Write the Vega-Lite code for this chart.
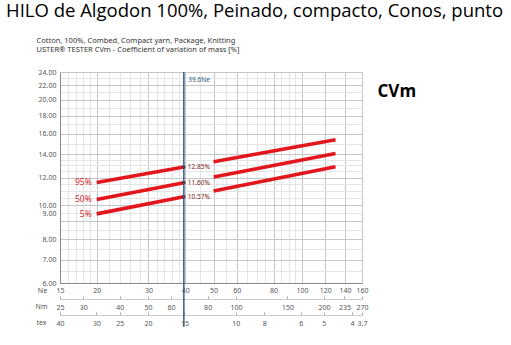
{
  "$schema": "https://vega.github.io/schema/vega-lite/v6.json",
  "autosize": {"type": "none"},
  "width": 302,
  "height": 211,
  "padding": {"left": 60, "top": 72, "right": 149, "bottom": 62},
  "background": "white",
  "config": {"view": {"stroke": "#c4c4c4"}},
  "title": {
    "text": "HILO de Algodon 100%, Peinado, compacto, Conos, punto",
    "anchor": "start", "frame": "group", "dx": -54, "dy": 3.5,
    "font": "Open Sans", "fontSize": 18.5, "fontWeight": "normal", "color": "#000000",
    "baseline": "alphabetic"
  },
  "datasets": {
    "lines": [
      {"Ne": 20, "CV": 11.62, "seg": "95a"}, {"Ne": 39.6, "CV": 12.85, "seg": "95a"},
      {"Ne": 50, "CV": 13.31, "seg": "95b"}, {"Ne": 130, "CV": 15.37, "seg": "95b"},
      {"Ne": 20, "CV": 10.39, "seg": "50a"}, {"Ne": 39.6, "CV": 11.6, "seg": "50a"},
      {"Ne": 50, "CV": 12.04, "seg": "50b"}, {"Ne": 130, "CV": 14.04, "seg": "50b"},
      {"Ne": 20, "CV": 9.45, "seg": "5a"}, {"Ne": 39.6, "CV": 10.57, "seg": "5a"},
      {"Ne": 50, "CV": 10.98, "seg": "5b"}, {"Ne": 130, "CV": 12.87, "seg": "5b"}
    ],
    "markers": [
      {"Ne": 39.6, "CV": 12.85, "label": "12.85%"},
      {"Ne": 39.6, "CV": 11.6, "label": "11.60%"},
      {"Ne": 39.6, "CV": 10.57, "label": "10.57%"}
    ],
    "left": [
      {"Ne": 20, "CV": 11.62, "label": "95%"},
      {"Ne": 20, "CV": 10.39, "label": "50%"},
      {"Ne": 20, "CV": 9.45, "label": "5%"}
    ],
    "vline": [{"Ne": 39.6, "CV": 24, "CV2": 4.5, "label": "39.6Ne"}],
    "nm": [{"Nm": 25, "CV": 6}, {"Nm": 270, "CV": 24}],
    "tex": [{"tex": 3.7}, {"tex": 40}]
  },
  "resolve": {"scale": {"x": "independent", "y": "independent"}},
  "layer": [
    {
      "encoding": {
        "x": {
          "field": "Ne", "type": "quantitative",
          "scale": {"type": "log", "domain": [15, 160], "nice": false},
          "axis": {
            "values": [15,16,17,18,19,20,22,24,26,28,30,32,34,36,38,40,45,50,55,60,65,70,75,80,85,90,95,100,120,140,160],
            "labelExpr": "indexof([15,20,30,40,50,60,80,100,120,140,160], datum.value) >= 0 ? '' + datum.value : ''",
            "gridColor": {"condition": {"test": "indexof([15,20,30,40,50,60,80,100,120,140,160], datum.value) >= 0", "value": "#c6c6c6"}, "value": "#e4e4e4"},
            "ticks": false, "labelPadding": 3, "labelOverlap": false, "labelFlush": false,
            "labelFont": "Noto Sans", "labelFontSize": 7, "labelColor": "#555555",
            "domainColor": "#8a8a8a",
            "title": "Ne", "titleX": -18, "titleY": 7.5, "titleAlign": "center", "titleBaseline": "middle",
            "titleFont": "Noto Sans", "titleFontSize": 7, "titleFontWeight": "normal", "titleColor": "#555555"
          }
        },
        "y": {
          "field": "CV", "type": "quantitative",
          "scale": {"type": "log", "domain": [6, 24], "nice": false},
          "axis": {
            "values": [6,6.5,7,7.5,8,8.5,9,9.5,10,10.5,11,11.5,12,12.5,13,13.5,14,15,16,17,18,19,20,21,22,23,24],
            "labelExpr": "indexof([6,7,8,9,10,12,14,16,18,20,22,24], datum.value) >= 0 ? format(datum.value, '.2f') : ''",
            "gridColor": {"condition": {"test": "indexof([6,7,8,9,10,12,14,16,18,20,22,24], datum.value) >= 0", "value": "#c6c6c6"}, "value": "#e4e4e4"},
            "labelOffset": {"condition": {"test": "datum.value == 9", "value": -8}, "value": 0},
            "ticks": false, "labelPadding": 4, "labelOverlap": false, "labelFlush": false,
            "labelFont": "Noto Sans", "labelFontSize": 7, "labelColor": "#555555",
            "domainColor": "#8a8a8a",
            "title": ["Cotton, 100%, Combed, Compact yarn, Package, Knitting", "USTER® TESTER CVm - Coefficient of variation of mass [%]"],
            "titleAngle": 0, "titleAlign": "left", "titleBaseline": "alphabetic",
            "titleX": -24, "titleY": -30, "titleLineHeight": 9,
            "titleFont": "Noto Sans", "titleFontSize": 7.5, "titleFontWeight": "normal", "titleColor": "#333333"
          }
        }
      },
      "layer": [
        {
          "data": {"name": "lines"},
          "mark": {"type": "line", "color": "#e3161d", "strokeWidth": 3.6, "strokeCap": "butt"},
          "encoding": {"detail": {"field": "seg"}}
        },
        {
          "data": {"name": "markers"},
          "mark": {"type": "point", "shape": "square", "filled": true, "size": 9, "color": "#7a1c1c", "opacity": 1}
        },
        {
          "data": {"name": "markers"},
          "mark": {"type": "text", "align": "left", "baseline": "middle", "dx": 4, "font": "Noto Sans", "fontSize": 6.5, "color": "#7a2020"},
          "encoding": {"text": {"field": "label"}}
        },
        {
          "data": {"name": "left"},
          "mark": {"type": "text", "align": "right", "baseline": "middle", "dx": -5, "font": "Noto Sans", "fontSize": 8.5, "color": "#d42a2a"},
          "encoding": {"text": {"field": "label"}}
        },
        {
          "data": {"name": "vline"},
          "mark": {"type": "rule", "color": "#2f5c86", "strokeWidth": 1.5},
          "encoding": {"y2": {"field": "CV2"}}
        },
        {
          "data": {"name": "vline"},
          "mark": {"type": "text", "align": "left", "baseline": "top", "dx": 4.5, "dy": 5, "font": "Noto Sans", "fontSize": 6.5, "color": "#2f5c86"},
          "encoding": {"text": {"field": "label"}}
        }
      ]
    },
    {
      "data": {"name": "nm"},
      "mark": {"type": "point", "opacity": 0},
      "encoding": {
        "x": {
          "field": "Nm", "type": "quantitative",
          "scale": {"type": "log", "domain": [25, 270], "nice": false},
          "axis": {
            "orient": "bottom", "offset": 16, "grid": false,
            "values": [25,30,40,50,60,80,100,150,200,235,270],
            "labelOverlap": false, "labelFlush": false,
            "tickSize": -3, "tickColor": "#aaaaaa", "labelPadding": 7,
            "labelFont": "Noto Sans", "labelFontSize": 7, "labelColor": "#555555",
            "domainColor": "#cccccc",
            "title": "Nm", "titleX": -19, "titleY": 7.5, "titleAlign": "center", "titleBaseline": "middle",
            "titleFont": "Noto Sans", "titleFontSize": 7, "titleFontWeight": "normal", "titleColor": "#555555"
          }
        },
        "y": {
          "field": "CV", "type": "quantitative",
          "scale": {"type": "log", "domain": [6, 24], "nice": false},
          "axis": {
            "orient": "right", "labels": false, "ticks": false, "domain": false, "grid": false,
            "title": "CVm", "titleAngle": 0, "titleAlign": "left", "titleBaseline": "alphabetic",
            "titleX": 15, "titleY": 24.5,
            "titleFont": "Open Sans", "titleFontSize": 17, "titleFontWeight": "bold", "titleColor": "#000000"
          }
        }
      }
    },
    {
      "data": {"name": "tex"},
      "mark": {"type": "point", "opacity": 0},
      "encoding": {
        "x": {
          "field": "tex", "type": "quantitative",
          "scale": {"type": "log", "domain": [3.7, 40], "reverse": true, "nice": false},
          "axis": {
            "orient": "bottom", "offset": 32, "grid": false,
            "values": [40,30,25,20,15,10,8,6,5,4,3.7],
            "labelOverlap": false, "labelFlush": false,
            "tickSize": -3, "tickColor": "#aaaaaa", "labelPadding": 7,
            "labelFont": "Noto Sans", "labelFontSize": 7, "labelColor": "#555555",
            "domainColor": "#cccccc",
            "title": "tex", "titleX": -19, "titleY": 7.5, "titleAlign": "center", "titleBaseline": "middle",
            "titleFont": "Noto Sans", "titleFontSize": 7, "titleFontWeight": "normal", "titleColor": "#555555"
          }
        }
      }
    }
  ]
}
